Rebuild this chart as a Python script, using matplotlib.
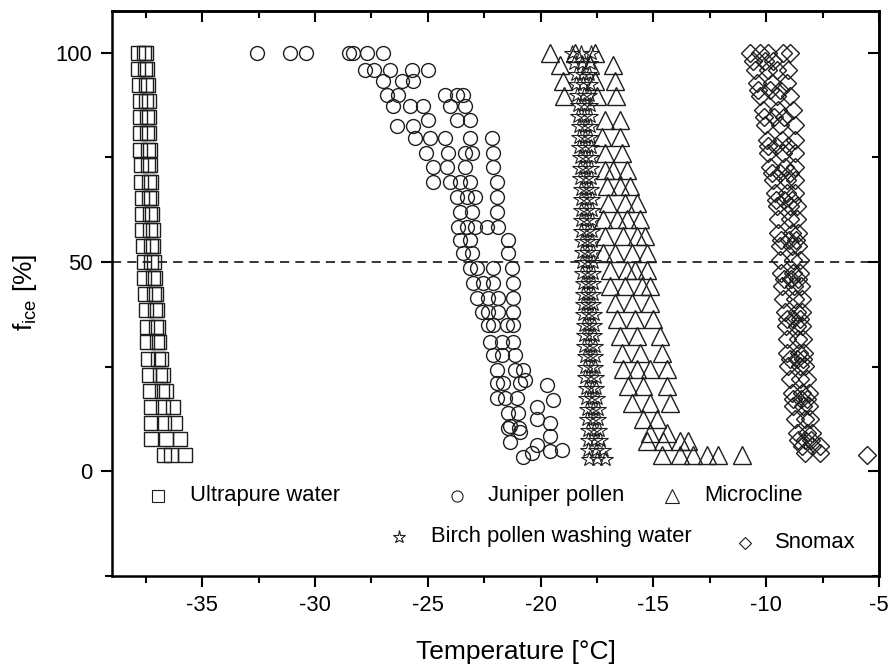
import matplotlib
matplotlib.use("Agg")
import matplotlib.pyplot as plt
from matplotlib.ticker import MultipleLocator, NullFormatter

plt.rcParams['font.family'] = ['Liberation Sans', 'DejaVu Sans']
plt.rcParams['mathtext.fontset'] = 'custom'
plt.rcParams['mathtext.rm'] = 'Liberation Sans'
plt.rcParams['mathtext.it'] = 'Liberation Sans:italic'
plt.rcParams['axes.unicode_minus'] = False

# ultrapure water: three runs, 26 droplets each
ultra_f = [100, 96.2, 92.3, 88.5, 84.6, 80.8, 76.9, 73.1, 69.2, 65.4, 61.5, 57.7, 53.8,
           50.0, 46.2, 42.3, 38.5, 34.6, 30.8, 26.9, 23.1, 19.2, 15.4, 11.5, 7.7, 3.8]
ultra_T_a = [-37.85, -37.83, -37.80, -37.78, -37.77, -37.75, -37.74, -37.72, -37.70, -37.69,
             -37.67, -37.65, -37.63, -37.60, -37.57, -37.55, -37.50, -37.47, -37.45, -37.40,
             -37.36, -37.32, -37.28, -37.26, -37.25, -36.70]
ultra_T_b = [-37.60, -37.55, -37.50, -37.48, -37.45, -37.44, -37.42, -37.40, -37.38, -37.36,
             -37.33, -37.30, -37.28, -37.25, -37.20, -37.15, -37.10, -37.05, -37.00, -36.95,
             -36.88, -36.80, -36.72, -36.68, -36.60, -36.40]
ultra_T_c = [-37.50, -37.45, -37.40, -37.38, -37.35, -37.35, -37.33, -37.30, -37.28, -37.25,
             -37.22, -37.20, -37.18, -37.15, -37.10, -37.05, -37.00, -36.95, -36.90, -36.85,
             -36.75, -36.60, -36.30, -36.20, -35.97, -35.75]

# juniper pollen
juniper_T = [-32.56, -31.10, -30.40, -28.50, -28.30, -27.70, -27.00,
             -27.78, -27.40, -26.67, -25.70, -24.99,
             -26.98, -26.14, -25.65,
             -26.80, -26.30, -24.23, -23.70, -23.44,
             -26.54, -25.78, -25.20, -24.00, -23.35,
             -24.99, -23.70, -23.13,
             -26.36, -25.65,
             -25.56, -24.90, -24.23, -23.13, -22.15,
             -25.10, -24.10, -23.35, -23.04, -22.10,
             -24.77, -24.14, -23.35, -22.10,
             -24.77, -24.00, -23.57, -23.13, -21.93,
             -23.70, -23.26, -22.90, -21.93,
             -23.57, -23.04, -21.93,
             -23.66, -23.26, -22.90, -22.37, -21.90,
             -23.57, -23.13, -21.44,
             -23.44, -23.04, -21.44,
             -23.13, -22.82, -22.10, -21.27,
             -22.99, -22.55, -22.10, -21.22,
             -22.82, -22.33, -21.88, -21.22,
             -22.60, -22.33, -21.88, -21.22,
             -22.33, -22.10, -21.49, -21.22,
             -22.24, -21.71, -21.22,
             -22.10, -21.71, -21.13,
             -21.93, -21.13, -20.78,
             -20.70,
             -21.93, -21.66, -20.90,
             -19.70,
             -21.93, -21.57, -21.04,
             -19.45, -20.16,
             -21.44, -21.00,
             -20.16, -19.58, -21.35,
             -21.44, -20.95,
             -20.90, -19.58, -21.35, -20.16, -19.05, -19.58, -20.40, -20.78]
juniper_f = [100, 100, 100, 100, 100, 100, 100,
             95.9, 95.9, 95.9, 95.9, 95.9,
             93.2, 93.2, 93.2,
             90.0, 90.0, 90.0, 90.0, 90.0,
             87.2, 87.2, 87.2, 87.2, 87.2,
             84.0, 84.0, 84.0,
             82.6, 82.6,
             79.7, 79.7, 79.7, 79.7, 79.7,
             76.1, 76.1, 76.1, 76.1, 76.1,
             72.8, 72.8, 72.8, 72.8,
             69.2, 69.2, 69.2, 69.2, 69.2,
             65.6, 65.6, 65.6, 65.6,
             62.0, 62.0, 62.0,
             58.4, 58.4, 58.4, 58.4, 58.4,
             55.3, 55.3, 55.3,
             52.2, 52.2, 52.2,
             48.6, 48.6, 48.6, 48.6,
             45.0, 45.0, 45.0, 45.0,
             41.5, 41.5, 41.5, 41.5,
             38.1, 38.1, 38.1, 38.1,
             35.0, 35.0, 35.0, 35.0,
             31.0, 31.0, 31.0,
             27.9, 27.9, 27.9,
             24.3, 24.3, 24.3,
             21.9,
             21.2, 21.2, 21.2,
             20.7,
             17.6, 17.6, 17.6,
             17.1, 15.5,
             14.0, 14.0,
             12.4, 11.6, 10.9,
             10.4, 10.4,
             9.5, 8.4, 7.1, 6.3, 5.2, 4.8, 4.3, 3.5]

# microcline
micro_T = [-19.58, -18.47, -17.59,
           -19.14, -17.80, -16.79,
           -19.00, -17.59, -16.70,
           -18.95, -17.50, -16.65,
           -17.14, -16.48,
           -17.28, -16.48,
           -17.14, -16.40,
           -17.14, -16.79, -16.17,
           -17.05, -16.48, -16.04,
           -17.00, -16.26, -15.73,
           -17.23, -16.61, -16.17, -15.59,
           -17.14, -16.35, -15.73, -15.37,
           -17.23, -16.70, -15.95, -15.28,
           -16.92, -16.17, -15.81, -15.28,
           -16.92, -16.26, -15.50, -15.15,
           -16.70, -15.95, -15.15,
           -16.61, -15.81, -15.02,
           -16.48, -15.73, -14.71,
           -16.40, -15.59, -14.62,
           -16.35, -15.73, -15.15, -14.40,
           -16.13, -15.46, -14.40,
           -15.95, -15.15, -14.26,
           -15.46, -14.84,
           -15.15, -14.40,
           -15.28, -14.57, -13.82, -13.47,
           -14.62, -13.82, -13.25, -12.63, -12.14, -11.07]
micro_f = [100, 100, 100,
           97.1, 97.1, 97.1,
           93.2, 93.2, 93.2,
           89.7, 89.7, 89.7,
           84.0, 84.0,
           80.0, 80.0,
           76.1, 76.1,
           72.1, 72.1, 72.1,
           68.1, 68.1, 68.1,
           64.1, 64.1, 64.1,
           60.2, 60.2, 60.2, 60.2,
           56.2, 56.2, 56.2, 56.2,
           52.2, 52.2, 52.2, 52.2,
           48.2, 48.2, 48.2, 48.2,
           44.3, 44.3, 44.3, 44.3,
           40.3, 40.3, 40.3,
           36.3, 36.3, 36.3,
           32.3, 32.3, 32.3,
           28.3, 28.3, 28.3,
           24.4, 24.4, 24.4, 24.4,
           20.4, 20.4, 20.4,
           16.4, 16.4, 16.4,
           12.4, 12.4,
           9.2, 9.2,
           7.2, 7.2, 7.2, 7.2,
           4.0, 4.0, 4.0, 4.0, 4.0, 4.0]

# birch pollen washing water: three runs, 40 droplets each
birch_f = [100, 97.5, 95, 92.5, 90, 87.5, 85, 82.5, 80, 77.5, 75, 72.5, 70, 67.5, 65, 62.5,
           60, 57.5, 55, 52.5, 50, 47.5, 45, 42.5, 40, 37.5, 35, 32.5, 30, 27.5, 25, 22.5,
           20, 17.5, 15, 12.5, 10, 7.5, 5, 3]
birch_T_a = [-18.60, -18.50, -18.45, -18.42, -18.38, -18.36, -18.33, -18.32, -18.30, -18.29,
             -18.27, -18.26, -18.25, -18.23, -18.22, -18.21, -18.20, -18.19, -18.18, -18.17,
             -18.16, -18.15, -18.14, -18.13, -18.12, -18.10, -18.09, -18.08, -18.06, -18.05,
             -18.03, -18.02, -18.00, -17.98, -17.96, -17.95, -17.92, -17.90, -17.88, -17.85]
birch_T_b = [-18.20, -18.15, -18.12, -18.10, -18.08, -18.08, -18.06, -18.05, -18.05, -18.04,
             -18.03, -18.02, -18.01, -18.00, -18.00, -17.98, -17.97, -17.96, -17.95, -17.94,
             -17.93, -17.92, -17.90, -17.89, -17.88, -17.86, -17.85, -17.83, -17.81, -17.80,
             -17.78, -17.76, -17.74, -17.72, -17.70, -17.68, -17.65, -17.60, -17.55, -17.50]
birch_T_c = [-17.75, -17.80, -17.85, -17.82, -17.84, -17.82, -17.80, -17.81, -17.79, -17.78,
             -17.77, -17.76, -17.76, -17.75, -17.74, -17.74, -17.73, -17.72, -17.71, -17.70,
             -17.70, -17.69, -17.68, -17.67, -17.66, -17.65, -17.63, -17.62, -17.61, -17.59,
             -17.57, -17.55, -17.53, -17.50, -17.47, -17.44, -17.40, -17.35, -17.25, -17.15]

# snomax
snomax_T = [-10.72, -10.27, -9.92, -9.25, -8.95,
            -10.50, -9.92, -9.52, -9.04,
            -10.41, -9.74, -9.08,
            -10.27, -9.52, -8.95,
            -10.14, -9.48, -8.81,
            -10.05, -9.39, -8.74,
            -9.97, -9.30, -8.74,
            -9.92, -9.25, -8.74,
            -9.83, -9.17, -8.74,
            -9.70, -9.08, -8.74,
            -9.61, -9.08, -8.74,
            -9.52, -8.95, -8.64,
            -9.48, -8.95, -8.64,
            -9.48, -8.86, -8.59,
            -9.39, -8.86, -8.59,
            -9.39, -8.81, -8.50,
            -9.35, -8.81, -8.50,
            -9.30, -8.77, -8.45,
            -9.25, -8.74, -8.41,
            -9.17, -8.64, -8.41,
            -9.12, -8.62, -8.40,
            -9.08, -8.59, -8.37,
            -9.06, -8.55, -8.33,
            -9.04, -8.50, -8.28,
            -8.95, -8.50, -8.19,
            -8.86, -8.41, -8.10,
            -8.81, -8.37, -8.10,
            -8.72, -8.28, -8.06,
            -8.64, -8.19, -7.97,
            -8.41, -7.97, -7.61,
            -8.28, -7.61,
            -5.54,
            -10.60, -10.05, -9.70,
            -10.35, -9.85, -9.40,
            -10.10, -9.65, -9.20,
            -9.90, -9.55, -9.05,
            -9.75, -9.40, -8.95,
            -9.55, -9.20, -8.85,
            -9.35, -9.00, -8.70,
            -9.20, -8.90, -8.60,
            -9.10, -8.80, -8.50,
            -8.95, -8.65, -8.35,
            -8.80, -8.45, -8.20,
            -8.60, -8.30, -8.00]
snomax_f = [100, 100, 100, 100, 100,
            95.9, 95.9, 95.9, 95.9,
            92.9, 92.9, 92.9,
            89.6, 89.6, 89.6,
            86.4, 86.4, 86.4,
            82.8, 82.8, 82.8,
            79.2, 79.2, 79.2,
            76.1, 76.1, 76.1,
            72.8, 72.8, 72.8,
            69.7, 69.7, 69.7,
            66.5, 66.5, 66.5,
            63.3, 63.3, 63.3,
            60.2, 60.2, 60.2,
            57.0, 57.0, 57.0,
            53.8, 53.8, 53.8,
            50.6, 50.6, 50.6,
            47.5, 47.5, 47.5,
            44.3, 44.3, 44.3,
            41.1, 41.1, 41.1,
            38.0, 38.0, 38.0,
            34.8, 34.8, 34.8,
            31.6, 31.6, 31.6,
            28.4, 28.4, 28.4,
            25.2, 25.2, 25.2,
            22.0, 22.0, 22.0,
            18.8, 18.8, 18.8,
            15.6, 15.6, 15.6,
            12.4, 12.4, 12.4,
            9.2, 9.2, 9.2,
            6.1, 6.1, 6.1,
            4.5, 4.5,
            4.0,
            98.0, 98.0, 98.0,
            91.2, 91.2, 91.2,
            84.6, 84.6, 84.6,
            77.7, 77.7, 77.7,
            71.2, 71.2, 71.2,
            64.9, 64.9, 64.9,
            55.4, 55.4, 55.4,
            45.9, 45.9, 45.9,
            36.4, 36.4, 36.4,
            26.8, 26.8, 26.8,
            17.2, 17.2, 17.2,
            7.6, 7.6, 7.6]

EDGE = '#1e1e1e'
LW = 1.0


def pts(ax, x, y, marker, ms, lw=LW):
    ax.plot(x, y, linestyle='none', marker=marker, markersize=ms,
            markerfacecolor='none', markeredgecolor=EDGE, markeredgewidth=lw)


fig = plt.figure(figsize=(8.92, 6.65), dpi=100)
ax = fig.add_axes([112 / 892, 89 / 665, 767 / 892, 565 / 665])

for run in (ultra_T_a, ultra_T_b, ultra_T_c):
    pts(ax, run, ultra_f, 's', 10.5)
pts(ax, juniper_T, juniper_f, 'o', 10)
pts(ax, micro_T, micro_f, '^', 12.5)
for run in (birch_T_a, birch_T_b, birch_T_c):
    pts(ax, run, birch_f, '*', 11.5, lw=0.8)
pts(ax, snomax_T, snomax_f, 'D', 9.2)

ax.axhline(50, color='black', lw=1.1, linestyle=(0, (6, 4)), zorder=0)

ax.set_xlim(-39, -5)
ax.set_ylim(-25, 110)

# legend drawn inside the frame in two rows
leg_ms = {'s': 8, 'o': 8, '^': 9.5, '*': 9.5, 'D': 6.5}
legend_rows = [
    ('s', -36.95, -5.8, -35.53, 'Ultrapure water'),
    ('o', -23.70, -5.8, -22.33, 'Juniper pollen'),
    ('^', -14.18, -5.8, -12.76, 'Microcline'),
    ('*', -26.27, -15.6, -24.85, 'Birch pollen washing water'),
    ('D', -10.94, -17.0, -9.61, 'Snomax'),
]
for mk, mx, my, tx, label in legend_rows:
    pts(ax, [mx], [my], mk, leg_ms[mk], lw=0.8)
    ax.text(tx, my, label, fontsize=15.8, va='center', ha='left')

for side in ax.spines.values():
    side.set_linewidth(1.8)

ax.xaxis.set_major_locator(MultipleLocator(5))
ax.xaxis.set_minor_locator(MultipleLocator(2.5))
ax.yaxis.set_major_locator(MultipleLocator(50))
ax.yaxis.set_minor_locator(MultipleLocator(25))
ax.tick_params(which='major', direction='out', length=8, width=1.5, labelsize=15.8, pad=6)
ax.tick_params(which='minor', direction='out', length=5, width=1.5)

# mirrored ticks on top and right point inward
top = ax.secondary_xaxis('top')
top.xaxis.set_major_locator(MultipleLocator(5))
top.xaxis.set_minor_locator(MultipleLocator(2.5))
top.xaxis.set_major_formatter(NullFormatter())
top.tick_params(which='major', direction='in', length=8, width=1.5)
top.tick_params(which='minor', direction='in', length=5, width=1.5)
top.spines['top'].set_linewidth(1.8)

right = ax.secondary_yaxis('right')
right.yaxis.set_major_locator(MultipleLocator(50))
right.yaxis.set_minor_locator(MultipleLocator(25))
right.yaxis.set_major_formatter(NullFormatter())
right.tick_params(which='major', direction='in', length=8, width=1.5)
right.tick_params(which='minor', direction='in', length=5, width=1.5)
right.spines['right'].set_linewidth(1.8)

fig.text(516 / 892, 6 / 665, 'Temperature [\u00b0C]', fontsize=19, ha='center', va='baseline')
fig.text(25 / 892, (665 - 292) / 665, r'f$_{\mathrm{ice}}$ [%]', fontsize=19,
         rotation=90, ha='center', va='center')

fig.savefig('out.png', dpi=100)
